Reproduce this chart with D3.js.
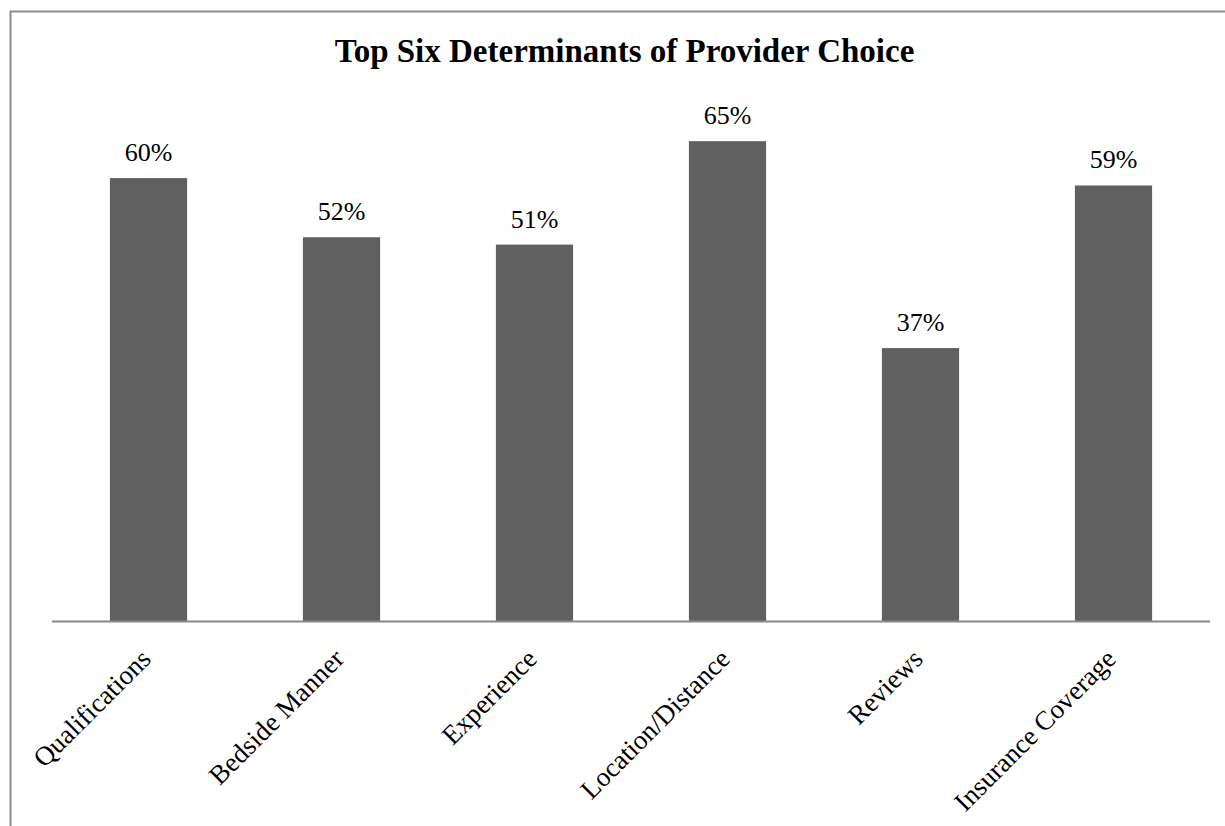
<!DOCTYPE html>
<html>
<head>
<meta charset="utf-8">
<script src="https://cdn.jsdelivr.net/npm/d3@7"></script>
<style>
  body { margin: 0; background: #fff; }
  svg text { font-family: "Liberation Serif", "Times New Roman", serif; fill: #000; }
</style>
</head>
<body>
<div class="container"></div>
<script>
const categories = ['Qualifications', 'Bedside Manner', 'Experience', 'Location/Distance', 'Reviews', 'Insurance Coverage'];
const values = [60, 52, 51, 65, 37, 59];
const chartTitle = 'Top Six Determinants of Provider Choice';

const width = 1225;
const height = 826;
const baseY = 621.5;

const svg = d3.select('.container')
  .append('svg')
  .attr('width', width)
  .attr('height', height);

// outer frame, runs off the right and bottom edges like the original crop
svg.append('rect')
  .attr('x', 10.5)
  .attr('y', 11.5)
  .attr('width', 1240)
  .attr('height', 840)
  .attr('fill', 'none')
  .attr('stroke', '#8c8c8c')
  .attr('stroke-width', 2);

const x = d3.scaleBand()
  .domain(categories)
  .range([52, 1210])
  .paddingInner(0.6)
  .paddingOuter(0.3);

const y = d3.scaleLinear()
  .domain([0, 70])
  .range([baseY, baseY - 70 * 7.39]);

svg.append('text')
  .attr('x', 624.5)
  .attr('y', 62)
  .attr('text-anchor', 'middle')
  .style('font-size', '33px')
  .style('font-weight', 'bold')
  .text(chartTitle);

const data = categories.map((c, i) => ({ name: c, value: values[i] }));

svg.selectAll('rect.bar')
  .data(data)
  .enter()
  .append('rect')
  .attr('class', 'bar')
  .attr('x', d => x(d.name))
  .attr('y', d => y(d.value))
  .attr('width', x.bandwidth())
  .attr('height', d => y(0) - y(d.value))
  .attr('fill', '#606060');

svg.selectAll('text.value')
  .data(data)
  .enter()
  .append('text')
  .attr('class', 'value')
  .attr('x', d => x(d.name) + x.bandwidth() / 2)
  .attr('y', d => y(d.value) - 17)
  .attr('text-anchor', 'middle')
  .style('font-size', '26px')
  .text(d => d.value + '%');

// baseline
svg.append('line')
  .attr('x1', 52)
  .attr('x2', 1210)
  .attr('y1', baseY)
  .attr('y2', baseY)
  .attr('stroke', '#878787')
  .attr('stroke-width', 2);

// rotated category labels
svg.selectAll('text.cat')
  .data(categories)
  .enter()
  .append('text')
  .attr('class', 'cat')
  .attr('text-anchor', 'end')
  .attr('transform', d => `translate(${x(d) + x.bandwidth() / 2 + 4}, ${baseY + 39}) rotate(-45)`)
  .style('font-size', '27px')
  .text(d => d);
</script>
</body>
</html>
